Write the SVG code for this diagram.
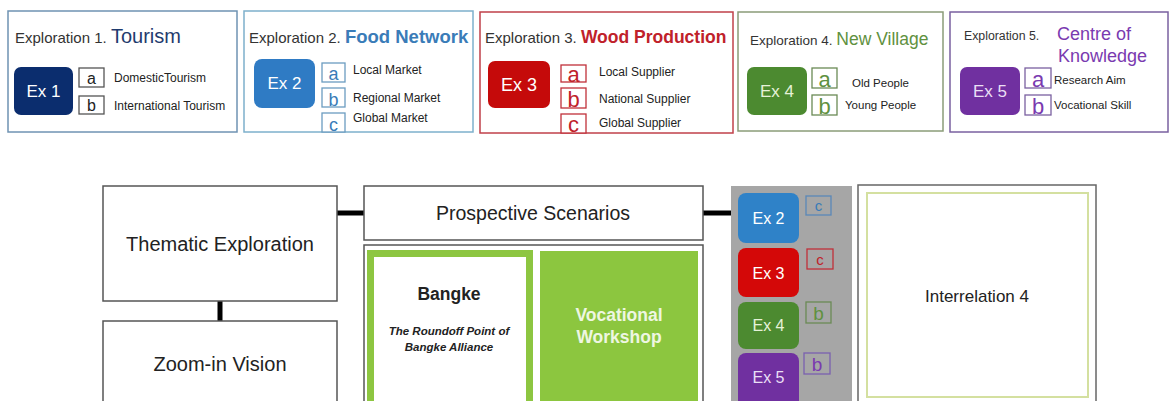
<svg xmlns="http://www.w3.org/2000/svg" width="1171" height="401" viewBox="0 0 1171 401">
<style>
text{font-family:"Liberation Sans",Arial,sans-serif}
.panel{fill:#ffffff;stroke-width:1.5}
.expl{fill:#333333}
.ex{text-anchor:middle}
.item{fill:#222222}
.lb{fill:#ffffff;stroke-width:1.3}
.box{fill:#ffffff;stroke:#555555;stroke-width:1.5}
.big{fill:#222222;text-anchor:middle}
.conn{stroke:#000000;stroke-width:5;fill:none}
</style>
<rect width="1171" height="401" fill="#ffffff"/>

<g id="panel1">
<rect class="panel" x="8" y="11" width="229" height="121" stroke="#6f93b3"/>
<text x="15" y="43" class="expl" font-size="15">Exploration 1. <tspan font-size="20" fill="#1f3b6e">Tourism</tspan></text>
<rect x="14" y="67" width="59" height="48" rx="7" fill="#0b2d6e"/>
<text x="43.5" y="97" class="ex" font-size="17" fill="#ffffff">Ex 1</text>
<rect class="lb" x="79" y="68" width="25" height="19" stroke="#555555"/>
<text x="91.5" y="84" font-size="16" fill="#222" text-anchor="middle">a</text>
<rect class="lb" x="79" y="96" width="25" height="18" stroke="#555555"/>
<text x="91.5" y="111" font-size="16" fill="#222" text-anchor="middle">b</text>
<text x="114" y="82" class="item" font-size="12">DomesticTourism</text>
<text x="114" y="110" class="item" font-size="12">International Tourism</text>
</g>

<g id="panel2">
<rect class="panel" x="244" y="11" width="229" height="121" stroke="#7db0cc"/>
<text x="249" y="43" class="expl" font-size="15">Exploration 2. <tspan font-size="18.5" fill="#3a7cb8" font-weight="bold">Food Network</tspan></text>
<rect x="254" y="59" width="61" height="49" rx="8" fill="#2f7bc4"/>
<text x="284.5" y="89" class="ex" font-size="17" fill="#ffffff">Ex 2</text>
<rect class="lb" x="322" y="63" width="23" height="19" stroke="#6b9cc0"/>
<text x="333.5" y="80" font-size="18" fill="#3a7cb8" text-anchor="middle">a</text>
<rect class="lb" x="322" y="88" width="23" height="19" stroke="#6b9cc0"/>
<text x="333.5" y="106" font-size="18" fill="#3a7cb8" text-anchor="middle">b</text>
<rect class="lb" x="322" y="113" width="23" height="19" stroke="#6b9cc0"/>
<text x="333.5" y="131" font-size="18" fill="#3a7cb8" text-anchor="middle">c</text>
<text x="353" y="74" class="item" font-size="12">Local Market</text>
<text x="353" y="102" class="item" font-size="12">Regional Market</text>
<text x="353" y="122" class="item" font-size="12">Global Market</text>
</g>

<g id="panel3">
<rect class="panel" x="480" y="12" width="253" height="121" stroke="#c0404a"/>
<text x="485" y="43" class="expl" font-size="15">Exploration 3. <tspan font-size="17.5" fill="#c0212a" font-weight="bold">Wood Production</tspan></text>
<rect x="488" y="61" width="62" height="47" rx="7" fill="#c50a0a"/>
<text x="519" y="91" class="ex" font-size="18" fill="#ffffff">Ex 3</text>
<rect class="lb" x="561" y="65" width="25" height="17" stroke="#c0303a"/>
<text x="573.5" y="82" font-size="22" fill="#c0212a" text-anchor="middle">a</text>
<rect class="lb" x="561" y="88" width="25" height="20" stroke="#c0303a"/>
<text x="573.5" y="107" font-size="22" fill="#c0212a" text-anchor="middle">b</text>
<rect class="lb" x="561" y="114" width="25" height="19" stroke="#c0303a"/>
<text x="573.5" y="132" font-size="22" fill="#c0212a" text-anchor="middle">c</text>
<text x="599" y="76" class="item" font-size="12">Local Supplier</text>
<text x="599" y="103" class="item" font-size="12">National Supplier</text>
<text x="599" y="127" class="item" font-size="12">Global Supplier</text>
</g>

<g id="panel4">
<rect class="panel" x="738" y="12" width="205" height="119" stroke="#8a9c78"/>
<text x="750" y="45" class="expl" font-size="13.5">Exploration 4. <tspan font-size="17.5" fill="#5f9140">New Village</tspan></text>
<rect x="747" y="67" width="60" height="48" rx="7" fill="#4c8a30"/>
<text x="777" y="97" class="ex" font-size="17" fill="#e6f2d8">Ex 4</text>
<rect class="lb" x="812" y="68" width="25" height="20" stroke="#6a8a55"/>
<text x="824.5" y="87" font-size="22" fill="#5f9140" text-anchor="middle">a</text>
<rect class="lb" x="812" y="95" width="25" height="20" stroke="#6a8a55"/>
<text x="824.5" y="114" font-size="22" fill="#5f9140" text-anchor="middle">b</text>
<text x="852" y="87" class="item" font-size="11.5">Old People</text>
<text x="845" y="109" class="item" font-size="11.5">Young People</text>
</g>

<g id="panel5">
<rect class="panel" x="950" y="12" width="218" height="120" stroke="#7a60a0"/>
<text x="964" y="40" class="expl" font-size="12.3">Exploration 5.</text>
<text x="1057" y="40" font-size="18" fill="#7a3ab0">Centre of</text>
<text x="1058" y="62" font-size="18" fill="#7a3ab0">Knowledge</text>
<rect x="960" y="67" width="60" height="48" rx="7" fill="#7030a0"/>
<text x="990" y="97" class="ex" font-size="17" fill="#eadff5">Ex 5</text>
<rect class="lb" x="1025" y="68" width="26" height="20" stroke="#7a60a0"/>
<text x="1038" y="87" font-size="22" fill="#7a3ab0" text-anchor="middle">a</text>
<rect class="lb" x="1025" y="95" width="26" height="20" stroke="#7a60a0"/>
<text x="1038" y="114" font-size="22" fill="#7a3ab0" text-anchor="middle">b</text>
<text x="1054" y="84" class="item" font-size="11.5">Research Aim</text>
<text x="1054" y="109" class="item" font-size="11.5">Vocational Skill</text>
</g>

<g id="connectors">
<line class="conn" x1="337" y1="213" x2="365" y2="213"/>
<line class="conn" x1="703" y1="213" x2="731" y2="213"/>
<line class="conn" x1="220" y1="301" x2="220" y2="321"/>
</g>

<g id="thematic">
<rect class="box" x="103" y="186" width="234" height="115"/>
<text x="220" y="251" class="big" font-size="20">Thematic Exploration</text>
</g>

<g id="zoomin">
<rect class="box" x="103" y="321" width="234" height="90"/>
<text x="220" y="371" class="big" font-size="20">Zoom-in Vision</text>
</g>

<g id="prospective">
<rect class="box" x="364" y="186" width="339" height="54"/>
<text x="533" y="220" class="big" font-size="19.5">Prospective Scenarios</text>
</g>

<g id="scenarios">
<rect class="box" x="364" y="245" width="339" height="170"/>
</g>

<g id="bangke">
<rect x="370.5" y="253.5" width="159" height="160" fill="#ffffff" stroke="#8dc641" stroke-width="7"/>
<text x="449" y="300" font-size="17.5" fill="#222" text-anchor="middle" font-weight="bold">Bangke</text>
<text x="449" y="335" font-size="11.5" fill="#222" text-anchor="middle" font-weight="bold" font-style="italic">The Roundoff Point of</text>
<text x="449" y="351" font-size="11.5" fill="#222" text-anchor="middle" font-weight="bold" font-style="italic">Bangke Alliance</text>
</g>

<g id="workshop">
<rect x="540" y="251" width="158" height="160" fill="#8cc63f"/>
<text x="619" y="321" font-size="17.5" fill="#eef6e2" text-anchor="middle" font-weight="bold">Vocational</text>
<text x="619" y="343" font-size="17.5" fill="#eef6e2" text-anchor="middle" font-weight="bold">Workshop</text>
</g>

<g id="exlist">
<rect x="731" y="186" width="121" height="225" fill="#a6a6a6"/>
<rect x="738" y="193" width="61" height="50" rx="8" fill="#2f82c8"/>
<text x="768.5" y="224" class="ex" font-size="16" fill="#ffffff">Ex 2</text>
<rect x="738" y="248" width="61" height="49" rx="8" fill="#d40808"/>
<text x="768.5" y="279" class="ex" font-size="16" fill="#ffffff">Ex 3</text>
<rect x="738" y="302" width="61" height="47" rx="8" fill="#4c8a30"/>
<text x="768.5" y="331" class="ex" font-size="16" fill="#e6f2d8">Ex 4</text>
<rect x="738" y="353" width="61" height="55" rx="8" fill="#7030a0"/>
<text x="768.5" y="383" class="ex" font-size="16" fill="#eadff5">Ex 5</text>
<rect x="806" y="196" width="25" height="19" fill="none" stroke="#5a88b8" stroke-width="1.3"/>
<text x="818.5" y="211" font-size="15" fill="#3a7cb8" text-anchor="middle">c</text>
<rect x="807" y="249" width="26" height="20" fill="none" stroke="#c0303a" stroke-width="1.3"/>
<text x="820" y="265" font-size="15" fill="#c0212a" text-anchor="middle">c</text>
<rect x="806" y="302" width="25" height="21" fill="none" stroke="#6a8a55" stroke-width="1.3"/>
<text x="818.5" y="320" font-size="19" fill="#5f9140" text-anchor="middle">b</text>
<rect x="804" y="353" width="26" height="21" fill="none" stroke="#7a60b0" stroke-width="1.3"/>
<text x="817" y="371" font-size="19" fill="#7a3ab0" text-anchor="middle">b</text>
</g>

<g id="interrelation">
<rect x="858" y="185" width="238" height="230" fill="#ffffff" stroke="#666666" stroke-width="1.5"/>
<rect x="867" y="193" width="221" height="204" fill="#ffffff" stroke="#d4e0a0" stroke-width="2"/>
<text x="977" y="302" font-size="17" fill="#222" text-anchor="middle">Interrelation 4</text>
</g>
</svg>
